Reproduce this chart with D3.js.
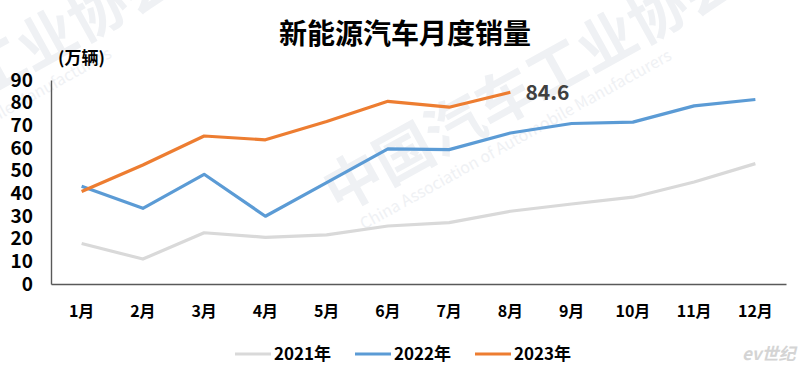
<!DOCTYPE html>
<html>
<head>
<meta charset="utf-8">
<script src="https://cdn.jsdelivr.net/npm/d3@7"></script>
<style>
  body { margin: 0; background: #fff; }
  text { font-family: "Noto Sans CJK SC", "Noto Sans", sans-serif; }
</style>
</head>
<body>
<div id="chart"></div>
<script>
// data (万辆)
var months = ["1月", "2月", "3月", "4月", "5月", "6月", "7月", "8月", "9月", "10月", "11月", "12月"];
var sales2021 = [17.9, 11.0, 22.6, 20.6, 21.7, 25.6, 27.1, 32.1, 35.3, 38.3, 45.0, 53.1];
var sales2022 = [43.1, 33.4, 48.4, 29.9, 44.7, 59.6, 59.3, 66.6, 70.8, 71.4, 78.6, 81.4];
var sales2023 = [40.8, 52.5, 65.3, 63.6, 71.7, 80.6, 78.0, 84.6];
var yTicks = [0, 10, 20, 30, 40, 50, 60, 70, 80, 90];
var seriesNames = ["2021年", "2022年", "2023年"];
var colors = ["#d9d9d9", "#5b9bd5", "#ed7d31"];

var W = 800, H = 377;
var margin = {top: 80, right: 14, bottom: 95, left: 51},
    width = W - margin.left - margin.right,
    height = H - margin.top - margin.bottom;

var svg = d3.select("#chart")
  .append("svg")
    .attr("width", W)
    .attr("height", H);

// faint watermark (two copies, the first mostly off the top-left edge)
var wm = svg.append("g").attr("fill", "#eff1f4");
[[-222, 212], [338, 214]].forEach(function(p) {
  wm.append("text")
    .attr("transform", "translate(" + p[0] + "," + p[1] + ") rotate(-29)")
    .style("font-size", "58px").style("font-weight", "bold")
    .text("中国汽车工业协会");
  wm.append("text")
    .attr("transform", "translate(" + (p[0] + 26) + "," + (p[1] + 16) + ") rotate(-29)")
    .style("font-size", "16px")
    .text("China Association of Automobile Manufacturers");
});

// title
svg.append("text")
  .attr("x", 405)
  .attr("y", 44)
  .attr("text-anchor", "middle")
  .style("font-size", "28px")
  .style("font-weight", "bold")
  .attr("fill", "#000")
  .text("新能源汽车月度销量");

svg.append("text")
  .attr("x", 58)
  .attr("y", 64)
  .style("font-size", "17px")
  .style("font-weight", "bold")
  .attr("fill", "#000")
  .text("(万辆)");

var g = svg.append("g")
  .attr("transform", "translate(" + margin.left + "," + margin.top + ")");

var x = d3.scaleBand()
  .domain(months)
  .range([0, width])
  .padding(0);

var y = d3.scaleLinear()
  .domain([0, 90])
  .range([height + 2, 0]);

// axes
var xAxis = g.append("g")
  .attr("transform", "translate(0," + (height + 2) + ")")
  .call(d3.axisBottom(x).tickSize(0).tickPadding(22));
xAxis.select(".domain").attr("stroke", "#595959").attr("stroke-width", 1.6);
xAxis.selectAll("text")
  .style("font-size", "16px").style("font-weight", "bold")
  .attr("fill", "#000")
  .attr("font-family", null);

var yAxis = g.append("g")
  .call(d3.axisLeft(y).tickValues(yTicks).tickSize(0).tickPadding(18));
yAxis.select(".domain").attr("stroke", "#595959").attr("stroke-width", 1.4);
yAxis.selectAll("text")
  .style("font-size", "19px").style("font-weight", "bold")
  .attr("fill", "#000")
  .attr("font-family", null);

// lines
var line = d3.line()
  .x(function(d, i) { return x(months[i]) + x.bandwidth() / 2; })
  .y(function(d) { return y(d); });

[sales2021, sales2022, sales2023].forEach(function(s, k) {
  g.append("path")
    .datum(s)
    .attr("fill", "none")
    .attr("stroke", colors[k])
    .attr("stroke-width", 3.2)
    .attr("stroke-linejoin", "round")
    .attr("d", line);
});

// last value label
var last = sales2023.length - 1;
g.append("text")
  .attr("x", x(months[last]) + x.bandwidth() / 2 + 15)
  .attr("y", y(sales2023[last]) + 8)
  .style("font-size", "21px")
  .style("font-weight", "bold")
  .attr("fill", "#404040")
  .text(sales2023[last].toFixed(1));

// legend
var legendX = [235, 355, 475];
var legend = svg.append("g");
seriesNames.forEach(function(name, k) {
  legend.append("line")
    .attr("x1", legendX[k]).attr("x2", legendX[k] + 36)
    .attr("y1", 354).attr("y2", 354)
    .attr("stroke", colors[k]).attr("stroke-width", 3.2);
  legend.append("text")
    .attr("x", legendX[k] + 39)
    .attr("y", 360)
    .style("font-size", "17px")
    .style("font-weight", "bold")
    .attr("fill", "#000")
    .text(name);
});

// corner mark
svg.append("text")
  .attr("x", 742).attr("y", 360)
  .style("font-size", "17px").style("font-style", "italic").style("font-weight", "bold")
  .attr("fill", "#d4d4d4")
  .text("ev世纪");
</script>
</body>
</html>
